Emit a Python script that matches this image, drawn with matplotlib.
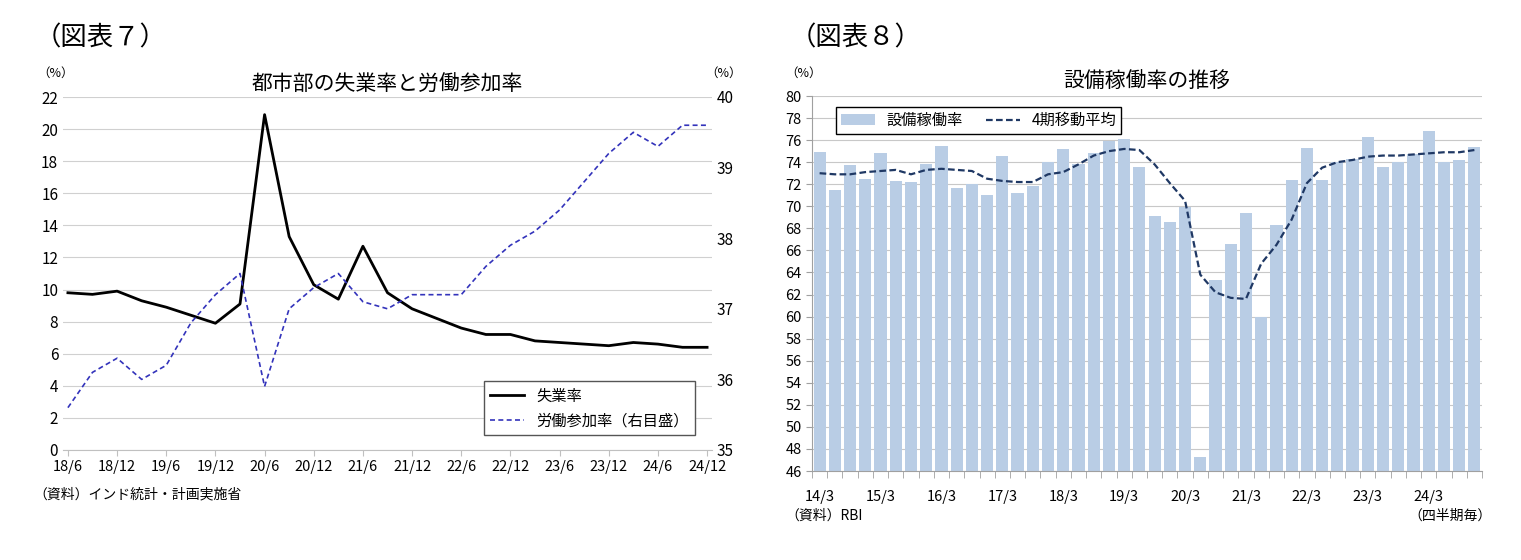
import matplotlib
matplotlib.use("Agg")
import matplotlib.pyplot as plt
import numpy as np

plt.rcParams["font.family"] = ["Noto Sans CJK JP", "DejaVu Sans"]

quarters7 = ["18/6","18/9","18/12","19/3","19/6","19/9","19/12","20/3","20/6","20/9","20/12","21/3","21/6","21/9",
             "21/12","22/3","22/6","22/9","22/12","23/3","23/6","23/9","23/12","24/3","24/6","24/9","24/12"]
unemp = [9.8,9.7,9.9,9.3,8.9,8.4,7.9,9.1,20.9,13.3,10.3,9.4,12.7,9.8,8.8,8.2,7.6,7.2,7.2,6.8,6.7,6.6,6.5,6.7,6.6,6.4,6.4]
lfpr = [35.6,36.1,36.3,36.0,36.2,36.8,37.2,37.5,35.9,37.0,37.3,37.5,37.1,37.0,37.2,37.2,37.2,37.6,37.9,38.1,38.4,38.8,39.2,39.5,39.3,39.6,39.6]

util = [74.9,71.5,73.7,72.5,74.8,72.3,72.2,73.8,75.5,71.7,72.0,71.0,74.6,71.2,71.8,74.0,75.2,73.8,74.8,75.9,
        76.1,73.6,69.1,68.6,69.9,47.3,63.3,66.6,69.4,60.0,68.3,72.4,75.3,72.4,74.0,74.3,76.3,73.6,74.0,74.7,
        76.8,74.0,74.2,75.4]
ma4 = [73.0,72.9,72.9,73.1,73.2,73.3,72.9,73.3,73.4,73.3,73.2,72.5,72.3,72.2,72.2,72.9,73.1,73.8,74.6,75.0,
       75.2,75.1,73.8,72.1,70.5,63.8,62.2,61.7,61.6,64.8,66.5,68.8,72.1,73.5,74.0,74.2,74.5,74.6,74.6,74.7,
       74.8,74.9,74.9,75.1]
years8 = ["14/3","15/3","16/3","17/3","18/3","19/3","20/3","21/3","22/3","23/3","24/3"]

W, H = 1521, 560
fig = plt.figure(figsize=(W/100, H/100), dpi=100)
def ax_at(l, t, r, b):
    return fig.add_axes([l/W, 1-b/H, (r-l)/W, (b-t)/H])

fig.text(35/W, 1-38/H, "（図表７）", fontsize=19, va="center", ha="left")
fig.text(790/W, 1-38/H, "（図表８）", fontsize=19, va="center", ha="left")

# Left chart
ax = ax_at(63, 97, 712, 450)
x = np.arange(len(quarters7))
ax.plot(x, unemp, color="black", lw=2)
ax.set_ylim(0, 22)
ax.set_yticks(range(0, 23, 2))
ax.set_xlim(-0.2, len(x)-0.8)
ax.set_xticks(x[::2])
ax.set_xticklabels(quarters7[::2], fontsize=10.5)
ax.grid(axis="y", color="#d0d0d0", lw=0.8)
ax.set_axisbelow(True)
for s in ["top", "right", "left"]:
    ax.spines[s].set_visible(False)
ax.spines["bottom"].set_color("#c0c0c0")
ax.tick_params(axis="y", length=0, labelsize=11)
ax.tick_params(axis="x", color="#c0c0c0", length=4)
ax2 = ax.twinx()
ax2.plot(x, lfpr, color="#3333bb", lw=1.2, ls=(0, (3, 2)))
ax2.set_ylim(35, 40)
ax2.set_yticks(range(35, 41))
ax2.tick_params(axis="y", length=0, labelsize=11)
for s in ["top", "right", "left", "bottom"]:
    ax2.spines[s].set_visible(False)
l1, = ax.plot([], [], color="black", lw=2, label="失業率")
l2, = ax.plot([], [], color="#3333bb", lw=1.2, ls=(0, (3, 2)), label="労働参加率（右目盛）")
ax.legend(handles=[l1, l2], loc="lower right", bbox_to_anchor=(0.985, 0.02), fontsize=11,
          fancybox=False, edgecolor="#555555", framealpha=1, handlelength=2.2)
ax.set_title("都市部の失業率と労働参加率", fontsize=15, pad=4)
fig.text(37/W, 1-73/H, "（%）", fontsize=9, ha="left", va="center")
fig.text(705/W, 1-73/H, "（%）", fontsize=9, ha="left", va="center")
fig.text(33/W, 1-494/H, "（資料）インド統計・計画実施省", fontsize=10, ha="left", va="center")

# Right chart
bx = ax_at(812, 96, 1482, 471)
xb = np.arange(len(util))
bars = bx.bar(xb, util, width=0.8, color="#b9cde5", label="設備稼働率")
ml, = bx.plot(xb, ma4, color="#1f3864", lw=1.6, ls=(0, (3, 1.5)), label="4期移動平均")
bx.set_ylim(46, 80)
bx.set_yticks(range(46, 81, 2))
bx.set_xlim(-0.5, len(util)-0.5)
bx.set_xticks(xb[::4])
bx.set_xticklabels(years8, fontsize=10.5)
bx.set_xticks(np.arange(-0.5, len(util), 1), minor=True)
bx.tick_params(axis="x", which="major", length=0, pad=14)
bx.tick_params(axis="x", which="minor", length=5, color="#a0a0a0")
bx.tick_params(axis="y", length=4, labelsize=10.5, color="#a0a0a0")
bx.grid(axis="y", color="#c8c8c8", lw=0.8)
bx.set_axisbelow(True)
for s in ["top", "right"]:
    bx.spines[s].set_visible(False)
bx.spines["left"].set_color("#a0a0a0")
bx.spines["bottom"].set_color("#a0a0a0")
bx.legend(handles=[bars, ml], loc="upper left", bbox_to_anchor=(0.025, 0.99), ncol=2, fontsize=11,
          fancybox=False, edgecolor="black", framealpha=1, handlelength=2.2, borderpad=0.3, columnspacing=1.5)
bx.set_title("設備稼働率の推移", fontsize=15, pad=6)
fig.text(785/W, 1-73/H, "（%）", fontsize=9, ha="left", va="center")
fig.text(785/W, 1-516/H, "（資料）RBI", fontsize=10, ha="left", va="center")
fig.text(1492/W, 1-516/H, "（四半期毎）", fontsize=10, ha="right", va="center")

fig.savefig("out.png", dpi=100)
